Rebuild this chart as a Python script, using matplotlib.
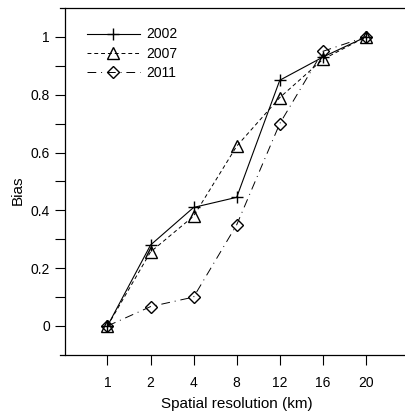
import matplotlib.pyplot as plt
import numpy as np

plt.rcParams['font.family'] = ['Liberation Sans', 'DejaVu Sans']

# data
res_labels = ['1', '2', '4', '8', '12', '16', '20']
bias_2002 = [0.0, 0.28, 0.41, 0.445, 0.85, 0.93, 1.0]
bias_2007 = [0.0, 0.256, 0.38, 0.622, 0.79, 0.922, 1.0]
bias_2011 = [0.0, 0.067, 0.10, 0.35, 0.70, 0.95, 1.0]

x = np.arange(len(res_labels))

fig = plt.figure(figsize=(4.06, 4.18), dpi=100)
ax = fig.add_axes([0.148, 0.151, 0.87, 0.83])

ax.plot(x, bias_2002, color='black', linestyle='-', linewidth=0.8,
        marker='+', markersize=9, markeredgewidth=1.0, label='2002')
ax.plot(x, bias_2007, color='black', linestyle=(0, (4, 3)), linewidth=0.7,
        marker='^', markersize=8, markerfacecolor='none', markeredgewidth=1.0, label='2007')
ax.plot(x, bias_2011, color='black', linestyle=(0, (9, 5, 1, 5)), linewidth=0.7,
        marker='D', markersize=6.5, markerfacecolor='none', markeredgewidth=1.0, label='2011')

ax.set_xlim(-1.1, 7.1)
ax.set_ylim(-0.1, 1.1)
ax.set_xticks(x)
ax.set_xticklabels(res_labels)
ax.set_yticks([0, 0.2, 0.4, 0.6, 0.8, 1.0])
ax.set_yticklabels(['0', '0.2', '0.4', '0.6', '0.8', '1'])
ax.set_yticks(np.arange(0.1, 1.0, 0.2), minor=True)
ax.tick_params(axis='both', which='both', direction='out', length=7, width=0.8,
               labelsize=10)
ax.tick_params(axis='x', pad=8)
ax.tick_params(axis='y', pad=4)

ax.spines['right'].set_visible(False)
ax.spines['left'].set_position(('outward', -3.6))
for s in ['left', 'bottom', 'top']:
    ax.spines[s].set_linewidth(0.9)

ax.set_xlabel('Spatial resolution (km)', fontsize=11, labelpad=5)
ax.set_ylabel('Bias', fontsize=11)
ax.yaxis.set_label_coords(-0.10, 0.475)

ax.legend(loc='upper left', frameon=False, fontsize=10, handlelength=3.8,
          handletextpad=0.45, bbox_to_anchor=(0.041, 0.98), labelspacing=0.38)

plt.savefig('out.png', dpi=100)
